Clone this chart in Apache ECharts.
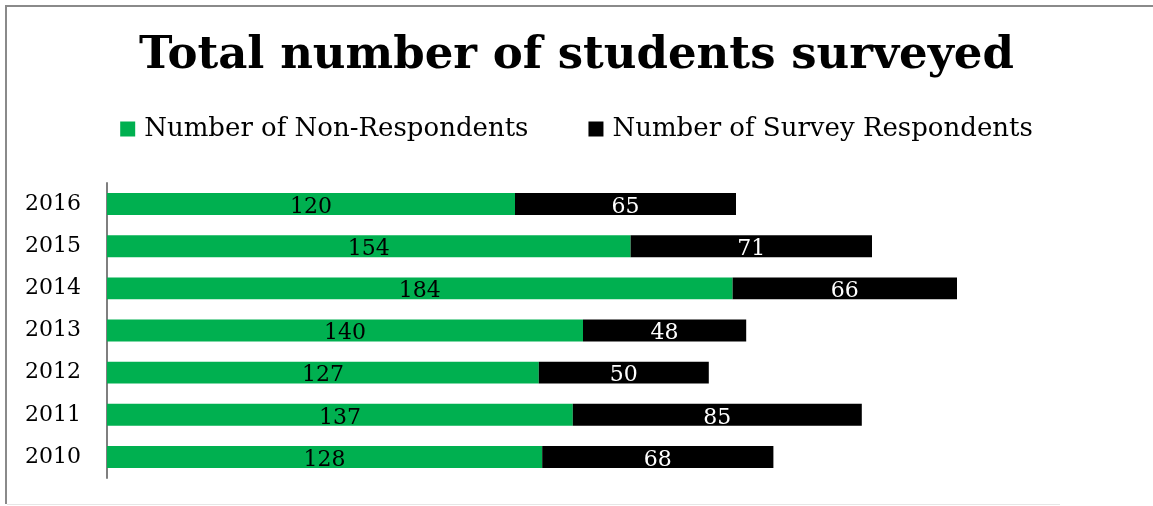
<!DOCTYPE html>
<html><head><meta charset="utf-8">
<script src="https://cdn.jsdelivr.net/npm/echarts@6/dist/echarts.min.js"></script>
<style>
html,body{margin:0;padding:0;background:#fff;}
#frame{position:absolute;left:5px;top:5px;width:1148px;height:499px;border-left:2px solid #8a8a8a;border-top:2px solid #8a8a8a;box-sizing:border-box;}
#bline{position:absolute;left:7px;top:504px;width:1053px;height:1px;background:#e6e6e6;}
#c{position:absolute;left:0;top:0;width:1153px;height:506px;}
</style></head>
<body>
<div id="frame"></div>
<div id="bline"></div>
<div id="c"></div>
<script>
const categories = ['2010','2011','2012','2013','2014','2015','2016'];
const nonRespondents = [128,137,127,140,184,154,120];
const respondents = [68,85,50,48,66,71,65];
const seriesNames = ['Number of Non-Respondents','Number of Survey Respondents'];
const FONT = 'DejaVu Serif';
const chart = echarts.init(document.getElementById('c'));
chart.setOption({
  animation:false,
  title:{text:'Total number of students surveyed',left:'center',top:29,
    textStyle:{fontFamily:FONT,fontWeight:'bold',fontSize:45,color:'#000'}},
  legend:{top:111,left:'center',itemGap:60,itemWidth:15,itemHeight:15,icon:'rect',
    textStyle:{fontFamily:FONT,fontSize:26,color:'#000',padding:[0,0,0,4]},
    data:seriesNames},
  grid:{left:107,top:183,width:1020,height:295,containLabel:false},
  xAxis:{type:'value',min:0,max:300,show:false},
  yAxis:{type:'category',data:categories,
    axisLine:{show:true,lineStyle:{color:'#7f7f7f',width:2}},
    axisTick:{show:false},
    axisLabel:{fontFamily:FONT,fontSize:22,color:'#000',margin:26}},
  series:[
    {name:seriesNames[0],type:'bar',stack:'t',data:nonRespondents,barWidth:'52%',
     itemStyle:{color:'#00b050'},
     label:{show:true,position:'inside',fontFamily:FONT,fontSize:22,color:'#000',offset:[0,3]}},
    {name:seriesNames[1],type:'bar',stack:'t',data:respondents,barWidth:'52%',
     itemStyle:{color:'#000000'},
     label:{show:true,position:'inside',fontFamily:FONT,fontSize:22,color:'#fff',offset:[0,3]}}
  ]
});
</script>
</body></html>
